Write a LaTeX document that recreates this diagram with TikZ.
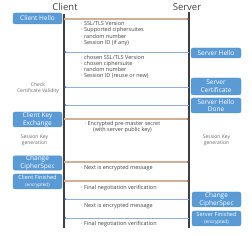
\documentclass[tikz,border=0pt]{standalone}
\usepackage{fontspec}
\setmainfont{Open Sans}
\usetikzlibrary{arrows.meta}
\definecolor{boxblue}{HTML}{5B9BD5}
\definecolor{boxedge}{HTML}{4E8FCB}
\definecolor{tan}{HTML}{D2B095}
\definecolor{tandark}{HTML}{A86F48}
\definecolor{lblue}{HTML}{8FAEE0}
\definecolor{lbluedark}{HTML}{4472C4}
\definecolor{lifeline}{HTML}{404040}
\definecolor{txt}{HTML}{404040}
\definecolor{note}{HTML}{666666}
\begin{document}
\begin{tikzpicture}[x=1pt,y=-1pt,
  msgbox/.style={draw=boxedge,line width=0.3pt,fill=boxblue,rounded corners=2pt,
    text=white,align=center,inner sep=0pt,minimum width=49pt,
    font=\fontsize{6.5}{7.8}\selectfont},
  title/.style={text=txt,font=\fontsize{9.5}{11}\selectfont,inner sep=0pt},
  bullets/.style={text=txt,align=left,anchor=west,inner sep=0pt,
    font=\fontsize{5.5}{6.1}\selectfont},
  sidenote/.style={text=note,align=center,inner sep=0pt,
    font=\fontsize{5}{6}\selectfont},
  tomsg/.style={draw=tan,line width=1.2pt,-{Stealth[length=2.2pt,width=2.4pt,color=tandark]}},
  frommsg/.style={draw=lblue,line width=0.8pt,-{Stealth[length=2.2pt,width=2.4pt,color=lbluedark]}},
  life/.style={draw=lifeline,line width=1.3pt}
]
\useasboundingbox (0,0) rectangle (252,235);

% titles and lifelines
\node[title] (client) at (65,7) {Client};
\node[title] (server) at (187,7) {Server};
\coordinate (ctop) at (64,14);
\coordinate (cbot) at (64,228);
\coordinate (stop) at (189,12);
\coordinate (sbot) at (189,228);
\draw[life] (ctop) -- (cbot);
\draw[life] (stop) -- (sbot);

% boxes
\node[msgbox,minimum height=11pt] (chello) at (37.5,18.5) {Client Hello};
\node[msgbox,minimum height=10pt,minimum width=50pt] (shello) at (216,53) {Server Hello};
\node[msgbox,minimum height=17pt,minimum width=50pt] (scert) at (216,86.5) {Server\\Certificate};
\node[msgbox,minimum height=15pt,minimum width=50pt] (sdone) at (216,105.5) {Server Hello\\Done};
\node[msgbox,minimum height=15pt] (ckey) at (37.5,119.5) {Client Key\\Exchange};
\node[msgbox,minimum height=14pt] (cchange) at (37.5,163) {Change\\CipherSpec};
\node[msgbox,minimum height=15pt] (cfin) at (37.5,181.5) {{\fontsize{5.6}{6}\selectfont Client Finished}\\[-0.6pt]{\fontsize{4.6}{5}\selectfont (encrypted)}};
\node[msgbox,minimum height=15pt] (schange) at (216.5,199.5) {Change\\CipherSpec};
\node[msgbox,minimum height=15pt] (sfin) at (216.5,218.5) {{\fontsize{5.6}{6}\selectfont Server Finished}\\[-0.6pt]{\fontsize{4.6}{5}\selectfont (encrypted)}};

% messages
\draw[tomsg] (chello.east |- 0,19) ++(2,0) coordinate (m1c) -- (m1c -| stop);
\coordinate (m2s) at (stop |- 0,52);
\draw[frommsg] (m2s) -- (m2s -| ctop);
\coordinate (m3s) at (stop |- 0,87);
\draw[frommsg] (m3s) -- (m3s -| ctop);
\coordinate (m4s) at (stop |- 0,105);
\draw[frommsg] (m4s) -- (m4s -| ctop);
\coordinate (m5c) at (ctop |- 0,119);
\draw[tomsg] (m5c) -- (m5c -| stop);
\coordinate (m6c) at (ctop |- 0,162);
\draw[tomsg] (m6c) -- (m6c -| stop);
\coordinate (m7c) at (ctop |- 0,181);
\draw[tomsg] (m7c) -- (m7c -| stop);
\coordinate (m8s) at (stop |- 0,199);
\draw[frommsg] (m8s) -- (m8s -| ctop);
\coordinate (m9s) at (stop |- 0,218);
\draw[frommsg] (m9s) -- (m9s -| ctop);

% message texts
\node[bullets] (t1) at (81,33.6) {· SSL/TLS Version\\· Supported ciphersuites\\· random number\\· Session ID (if any)};
\node[bullets] (t2) at (81,66.6) {· chosen SSL/TLS Version\\· chosen ciphersuite\\· random number\\· Session ID (reuse or new)};
\node[bullets,anchor=center,align=center] (t5) at (122.5,127.2) {· Encrypted pre-master secret\\(with server public key)};
\node[bullets] (t6) at (81,168) {· Next is encrypted message};
\node[bullets] (t7) at (81,188) {· Final negotiation verification};
\node[bullets] (t8) at (81,206) {· Next is encrypted message};
\node[bullets] (t9) at (81,224) {· Final negotiation verification};

% side notes
\node[sidenote] (check) at (38,88) {Check\\Certificate Validity};
\node[sidenote] (skc) at (34.5,140) {Session Key\\generation};
\node[sidenote] (sks) at (216.5,140) {Session Key\\generation};
\end{tikzpicture}
\end{document}
